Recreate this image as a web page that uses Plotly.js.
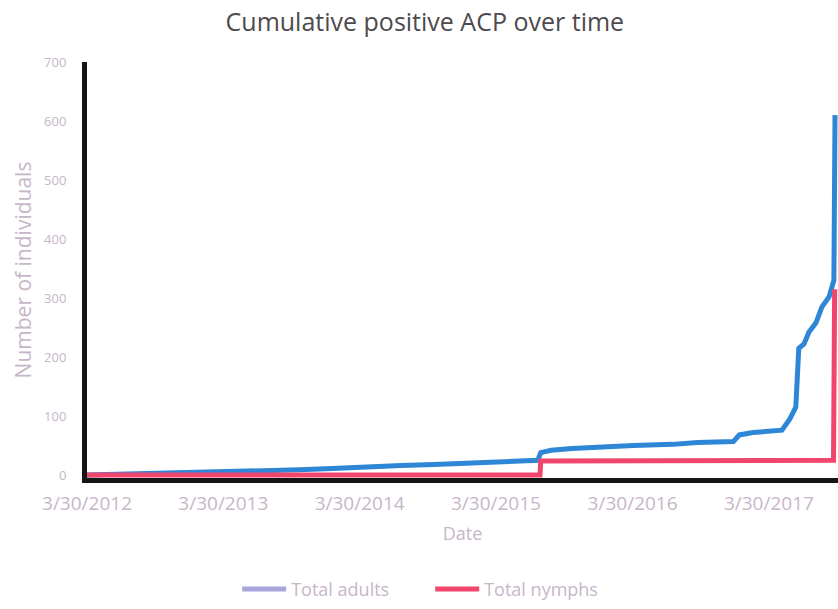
<!DOCTYPE html>
<html>
<head>
<meta charset="utf-8">
<script src="https://cdn.plot.ly/plotly-3.0.1.min.js"></script>
<style>html,body{margin:0;padding:0;background:#fff;}#chart{width:838px;height:609px;}</style>
</head>
<body>
<div id="chart"></div>
<script>
// Total adults (cumulative)
const adultDates = ['2012-03-30','2012-06-15','2012-09-20','2012-12-10','2013-03-30','2013-07-15','2013-10-20','2014-01-15','2014-04-10','2014-07-20','2014-10-15','2015-01-20','2015-04-15','2015-07-20','2015-07-28','2015-08-25','2015-10-20','2016-01-10','2016-04-01','2016-07-15','2016-09-20','2016-12-25','2017-01-10','2017-02-15','2017-04-01','2017-05-04','2017-05-25','2017-06-10','2017-06-18','2017-07-02','2017-07-15','2017-08-03','2017-08-19','2017-09-07','2017-09-20','2017-09-23'];
const adultValues = [0,1,2,4,5,7,9,11,14,16,18,20,22,25,38,42,45,48,50,52,55,57,68,72,74,76,95,115,215,222,242,258,285,302,330,610];
// Total nymphs (cumulative)
const nymphDates = ['2012-03-30','2015-07-26','2015-07-28','2017-09-19','2017-09-22'];
const nymphValues = [0,0,24,25,315];
const xTickVals = ['2012-03-30','2013-03-30','2014-03-30','2015-03-30','2016-03-30','2017-03-30'];
const xTickText = ['3/30/2012','3/30/2013','3/30/2014','3/30/2015','3/30/2016','3/30/2017'];
const yTickVals = [0,100,200,300,400,500,600,700];

const labelColor = '#c7b6c8';
const traces = [
  {x: adultDates, y: adultValues, type: 'scatter', mode: 'lines', name: 'Total adults',
   line: {color: '#2e86d6', width: 5}, showlegend: false},
  {x: nymphDates, y: nymphValues, type: 'scatter', mode: 'lines', name: 'Total nymphs',
   line: {color: '#f0466c', width: 5}, showlegend: false},
  {x: [null], y: [null], type: 'scatter', mode: 'lines', name: 'Total adults',
   line: {color: '#aaa6dc', width: 5}},
  {x: [null], y: [null], type: 'scatter', mode: 'lines', name: 'Total nymphs',
   line: {color: '#f0466c', width: 5}}
];
const layout = {
  width: 838, height: 609,
  margin: {l: 87, r: 0, t: 62, b: 131},
  paper_bgcolor: '#fff', plot_bgcolor: '#fff',
  font: {family: 'Open Sans, sans-serif', color: labelColor},
  title: {text: 'Cumulative positive ACP over time', x: 0.507, xanchor: 'center', y: 0.963, yanchor: 'middle',
          font: {size: 25, color: '#4d4a4d', family: 'Open Sans, sans-serif'}},
  xaxis: {type: 'date', range: ['2012-03-30','2017-10-01'], tickvals: xTickVals, ticktext: xTickText,
          showgrid: false, zeroline: false, showline: true, linecolor: '#151515', linewidth: 5,
          ticks: 'outside', ticklen: 4, tickcolor: 'rgba(0,0,0,0)',
          tickfont: {size: 19, color: labelColor},
          title: {text: 'Date', font: {size: 18, color: labelColor}, standoff: 14}},
  yaxis: {range: [-5, 700], tickvals: yTickVals, showgrid: false, zeroline: false,
          showline: true, linecolor: '#151515', linewidth: 5,
          ticks: 'outside', ticklen: 13, tickcolor: 'rgba(0,0,0,0)',
          tickfont: {size: 13, color: labelColor},
          title: {text: 'Number of individuals', font: {size: 21, color: labelColor}, standoff: 8}},
  legend: {orientation: 'h', x: 0.457, xanchor: 'center', y: -0.312, yanchor: 'bottom',
           font: {size: 18, color: labelColor}, itemwidth: 44, entrywidth: 134, tracegroupgap: 0}
};
Plotly.newPlot('chart', traces, layout, {displayModeBar: false, staticPlot: true});
</script>
</body>
</html>
